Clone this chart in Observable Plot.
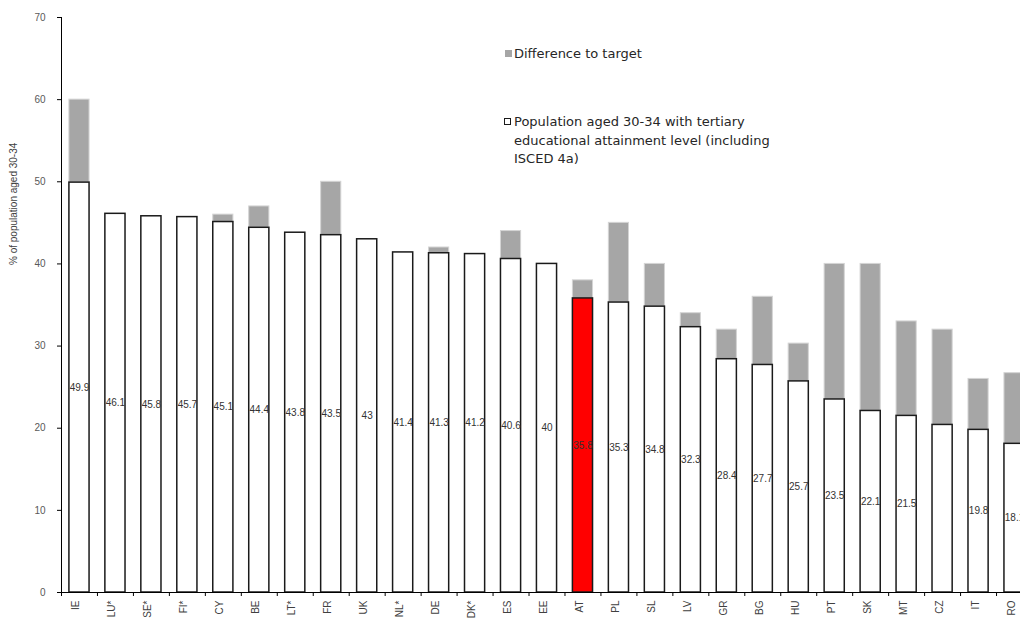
<!DOCTYPE html>
<html>
<head>
<meta charset="utf-8">
<script src="https://cdn.jsdelivr.net/npm/d3@7"></script>
<script src="https://cdn.jsdelivr.net/npm/@observablehq/plot@0.6"></script>
<style>
  html, body { margin: 0; padding: 0; background: #fff; overflow: hidden; width: 1020px; height: 620px; }
  #wrap { position: relative; width: 1020px; height: 620px; overflow: hidden; }
  #chart svg { max-width: none !important; }
  #legend { position: absolute; left: 0; top: 0; font-family: "DejaVu Sans", sans-serif; font-size: 13px; color: #262626; }
  .item { position: absolute; white-space: nowrap; line-height: 18.5px; }
  .sw { position: absolute; width: 7px; height: 7px; box-sizing: border-box; }
</style>
</head>
<body>
<div id="wrap">
  <div id="chart"></div>
  <div id="legend"></div>
</div>
<script>
const categories = ["IE","LU*","SE*","FI*","CY","BE","LT*","FR","UK","NL*","DE","DK*","ES","EE","AT","PL","SL","LV","GR","BG","HU","PT","SK","MT","CZ","IT","RO"];
const attainment = [49.9,46.1,45.8,45.7,45.1,44.4,43.8,43.5,43,41.4,41.3,41.2,40.6,40,35.8,35.3,34.8,32.3,28.4,27.7,25.7,23.5,22.1,21.5,20.4,19.8,18.1];
const targets = [60,null,null,null,46,47,null,50,null,null,42,null,44,null,38,45,40,34,32,36,30.3,40,40,33,32,26,26.7];
const highlighted = ["AT"];
const unlabelled = ["CZ"];
const yTicks = [0,10,20,30,40,50,60,70];
const yTitle = "% of population aged 30-34";
const legendGap = "Difference to target";
const legendPop = ["Population aged 30-34 with tertiary", "educational attainment level (including", "ISCED 4a)"];

const rows = categories.map((c, i) => ({country: c, value: attainment[i], target: targets[i]}));
const gaps = rows.filter(d => d.target != null && d.target > d.value);

const W = 1032, ML = 61;
const step = (W - ML) / categories.length;
const font = "'Liberation Sans', sans-serif";

const chart = Plot.plot({
  width: W, height: 620,
  marginLeft: ML, marginRight: 0, marginTop: 17, marginBottom: 28,
  style: {fontFamily: font, background: "white", overflow: "visible", maxWidth: "none"},
  x: {domain: categories, paddingInner: 0.44, paddingOuter: 0.22, round: false, axis: null},
  y: {domain: [0, 70], axis: null},
  marks: [
    Plot.barY(gaps, {x: "country", y1: "value", y2: "target", fill: "#a6a6a6", stroke: "#d4d4d4", strokeWidth: 1}),
    Plot.barY(rows.filter(d => !highlighted.includes(d.country)), {x: "country", y1: 0, y2: "value", fill: "#ffffff", stroke: "#1a1a1a", strokeWidth: 1.5}),
    Plot.barY(rows.filter(d => highlighted.includes(d.country)), {x: "country", y1: 0, y2: "value", fill: "#ff0000", stroke: "#1a1a1a", strokeWidth: 1.5}),
    Plot.text(rows.filter(d => !unlabelled.includes(d.country)), {x: "country", y: d => d.value / 2, text: d => String(d.value), fontSize: 10, fill: "#333"}),
    Plot.ruleY([0], {stroke: "#000", strokeWidth: 1}),
    Plot.ruleX([categories[0]], {x: d => d, dx: -step / 2, y1: 0, y2: 70, stroke: "#000", strokeWidth: 1}),
    Plot.ruleX(categories, {x: d => d, dx: -step / 2, y1: 0, y2: 0, insetBottom: -4, stroke: "#000"}),
    Plot.axisY({ticks: yTicks, tickSize: 4, tickPadding: 12, fontSize: 10, fill: "#595959", stroke: "#000", label: null}),
    Plot.text(categories, {x: d => d, frameAnchor: "bottom", dy: 8, rotate: -90, textAnchor: "end", fontSize: 10, fill: "#404040"}),
    Plot.text([yTitle], {frameAnchor: "left", dx: -48, dy: -40, rotate: -90, fontSize: 10, fill: "#404040"})
  ]
});
document.getElementById("chart").appendChild(chart);

const leg = document.getElementById("legend");
leg.innerHTML = `
  <div class="sw" style="left:505px;top:50px;background:#a6a6a6;"></div>
  <div class="item" style="left:514px;top:45px;">${legendGap}</div>
  <div class="sw" style="left:504px;top:118px;background:#fff;border:1.3px solid #1a1a1a;"></div>
  <div class="item" style="left:514px;top:113px;">${legendPop.join("<br>")}</div>
`;
</script>
</body>
</html>
